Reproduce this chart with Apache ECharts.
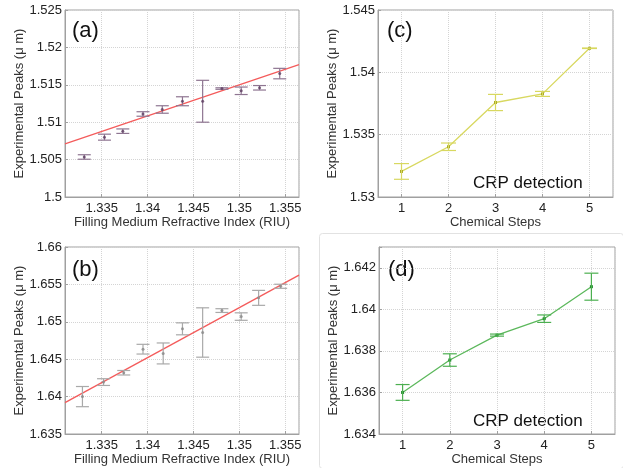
<!DOCTYPE html>
<html>
<head>
<meta charset="utf-8">
<script src="https://cdn.jsdelivr.net/npm/echarts@6/dist/echarts.min.js"></script>
<style>
    html, body { margin: 0; padding: 0; background: #fff; }
    #main { width: 623px; height: 468px; }
</style>
</head>
<body>
<div id="main"></div>
<script>
/*---------------------------------------------------------------
 数据
---------------------------------------------------------------*/
// (a) and (b): peak vs filling medium refractive index
const riuA = [1.3331, 1.3353, 1.3373, 1.3395, 1.3416, 1.3438, 1.3460, 1.3481, 1.3502, 1.3522, 1.3544];
const peaksA = [1.50535, 1.5080, 1.5088, 1.5111, 1.5117, 1.5128, 1.5128, 1.5145, 1.5142, 1.5146, 1.5165];
const errA = [0.0003, 0.0004, 0.0003, 0.0003, 0.0005, 0.0006, 0.0028, 0.0001, 0.0005, 0.0003, 0.0007];
const fitA = [[1.331, 1.5071], [1.3565, 1.5177]];

const riuB = [1.3329, 1.3352, 1.3374, 1.3395, 1.3417, 1.3438, 1.3460, 1.3481, 1.3502, 1.3521, 1.3545];
const peaksB = [1.6400, 1.64194, 1.64319, 1.64634, 1.64577, 1.64906, 1.64857, 1.6515, 1.6507, 1.6532, 1.65475];
const errB = [0.00135, 0.00045, 0.0003, 0.00065, 0.0014, 0.0008, 0.0033, 0.00025, 0.0005, 0.001, 0.00027];
const fitB = [[1.331, 1.6392], [1.3565, 1.65624]];

// (c) and (d): CRP detection, chemical steps
const steps = [1, 2, 3, 4, 5];
const peaksC = [1.53205, 1.53403, 1.53758, 1.53827, 1.54193];
const errC = [0.00063, 0.0003, 0.00065, 0.0002, 0.00002];
const peaksD = [1.6360, 1.63756, 1.63876, 1.63955, 1.64109];
const errD = [0.00038, 0.0003, 0.00005, 0.00018, 0.00065];

const yTicksA = [1.5, 1.525, 0.005];
const yTicksB = [1.635, 1.66, 0.005];
const yTicksC = [1.53, 1.545, 0.005];
const yTicksD = [1.634, 1.643, 0.002];

/*---------------------------------------------------------------
 通用样式
---------------------------------------------------------------*/
const FONT = 'Liberation Sans';
const grids = [
    { left: 65, top: 10, width: 234, height: 187 },
    { left: 65, top: 247, width: 234, height: 187 },
    { left: 378, top: 10, width: 235, height: 187 },
    { left: 379, top: 247, width: 236, height: 187 }
].map(g => Object.assign(g, { show: true, borderColor: '#a0a0a0', borderWidth: 1 }));

function pair(xs, ys) {
    return xs.map((x, i) => [x, ys[i]]);
}
function bars(xs, ys, es) {
    return xs.map((x, i) => [x, ys[i] - es[i], ys[i] + es[i]]);
}

function xAxisOf(idx, min, max, name) {
    return {
        type: 'value', gridIndex: idx, min: min, max: max,
        name: name, nameLocation: 'middle', nameGap: 17,
        nameTextStyle: { fontFamily: FONT, fontSize: 13, color: '#333' },
        axisLine: { show: true, lineStyle: { color: '#a0a0a0' } },
        axisTick: { show: true, inside: true, length: 3, lineStyle: { color: '#a0a0a0' } },
        axisLabel: {
            fontFamily: FONT, fontSize: 13, color: '#222', margin: 5,
            showMinLabel: false, showMaxLabel: false
        },
        splitLine: { show: true, lineStyle: { color: '#d4d4d4', type: 'dotted' } }
    };
}

function yAxisOf(idx, ticks) {
    return {
        type: 'value', gridIndex: idx, min: ticks[0], max: ticks[1], interval: ticks[2],
        name: 'Experimental Peaks (\u03bc m)', nameLocation: 'middle', nameGap: 37,
        nameTextStyle: { fontFamily: FONT, fontSize: 13, color: '#333' },
        axisLine: { show: true, lineStyle: { color: '#a0a0a0' } },
        axisTick: { show: true, inside: true, length: 3, lineStyle: { color: '#a0a0a0' } },
        axisLabel: {
            fontFamily: FONT, fontSize: 13, color: '#222', margin: 3,
            formatter: function (v) {
                // 不在刻度上的端点不显示
                let k = Math.round((v - ticks[0]) / ticks[2]);
                return Math.abs(ticks[0] + k * ticks[2] - v) < 1e-9 ? String(+v.toFixed(4)) : '';
            }
        },
        splitLine: { show: true, lineStyle: { color: '#d4d4d4', type: 'dotted' } }
    };
}

// 误差棒 custom series
function errorBars(idx, data, color, halfCap) {
    return {
        type: 'custom', xAxisIndex: idx, yAxisIndex: idx,
        encode: { x: 0, y: [1, 2] },
        data: data, z: 3,
        renderItem: function (params, api) {
            let lo = api.coord([api.value(0), api.value(1)]);
            let hi = api.coord([api.value(0), api.value(2)]);
            let style = { stroke: color, lineWidth: 1.2 };
            return {
                type: 'group',
                children: [
                    { type: 'line', shape: { x1: lo[0], y1: lo[1], x2: hi[0], y2: hi[1] }, style: style },
                    { type: 'line', shape: { x1: lo[0] - halfCap, y1: lo[1], x2: lo[0] + halfCap, y2: lo[1] }, style: style },
                    { type: 'line', shape: { x1: hi[0] - halfCap, y1: hi[1], x2: hi[0] + halfCap, y2: hi[1] }, style: style }
                ]
            };
        }
    };
}

function panelLabel(text, x, y) {
    return { type: 'text', left: x, top: y, style: { text: text, font: '22px "' + FONT + '"', fill: '#111' } };
}
function crpLabel(x, y) {
    return { type: 'text', left: x, top: y, style: { text: 'CRP detection', font: '17px "' + FONT + '"', fill: '#111' } };
}

/*---------------------------------------------------------------
 图表
---------------------------------------------------------------*/
let myChart = echarts.init(document.getElementById('main'), null, { renderer: 'canvas' });
let option = {
    animation: false,
    backgroundColor: '#fff',
    grid: grids,
    xAxis: [
        xAxisOf(0, 1.331, 1.3565, 'Filling Medium Refractive Index (RIU)'),
        xAxisOf(1, 1.331, 1.3565, 'Filling Medium Refractive Index (RIU)'),
        xAxisOf(2, 0.5, 5.5, 'Chemical Steps'),
        xAxisOf(3, 0.5, 5.5, 'Chemical Steps')
    ],
    yAxis: [
        yAxisOf(0, yTicksA),
        yAxisOf(1, yTicksB),
        yAxisOf(2, yTicksC),
        yAxisOf(3, yTicksD)
    ],
    graphic: [
        { type: 'rect', left: 317, top: 231, shape: { width: 304, height: 235, r: 3 },
          style: { fill: 'none', stroke: '#e2e2e2', lineWidth: 1 } },
        panelLabel('(a)', 72, 20),
        panelLabel('(b)', 72, 259),
        panelLabel('(c)', 387, 20),
        panelLabel('(d)', 388, 259),
        crpLabel(473, 175),
        crpLabel(473, 413)
    ],
    series: [
        // (a)
        { type: 'line', xAxisIndex: 0, yAxisIndex: 0, data: fitA, symbol: 'none', z: 2,
          lineStyle: { color: '#f45b5b', width: 1.3 } },
        errorBars(0, bars(riuA, peaksA, errA), '#8e7591', 6.5),
        { type: 'scatter', xAxisIndex: 0, yAxisIndex: 0, data: pair(riuA, peaksA), z: 4,
          symbolSize: 3, itemStyle: { color: '#5e3d62' } },
        // (b)
        { type: 'line', xAxisIndex: 1, yAxisIndex: 1, data: fitB, symbol: 'none', z: 2,
          lineStyle: { color: '#f45b5b', width: 1.3 } },
        errorBars(1, bars(riuB, peaksB, errB), '#a9a9a9', 6.5),
        { type: 'scatter', xAxisIndex: 1, yAxisIndex: 1, data: pair(riuB, peaksB), z: 4,
          symbolSize: 3, itemStyle: { color: '#888' } },
        // (c)
        { type: 'line', xAxisIndex: 2, yAxisIndex: 2, data: pair(steps, peaksC), z: 2,
          symbol: 'rect', symbolSize: 3, itemStyle: { color: '#a8a820' },
          lineStyle: { color: '#d8d860', width: 1.3 } },
        errorBars(2, bars(steps, peaksC, errC), '#d8d860', 7.5),
        // (d)
        { type: 'line', xAxisIndex: 3, yAxisIndex: 3, data: pair(steps, peaksD), z: 2,
          symbol: 'rect', symbolSize: 3, itemStyle: { color: '#1f8a2a' },
          lineStyle: { color: '#5cb85c', width: 1.3 } },
        errorBars(3, bars(steps, peaksD, errD), '#4caf50', 7)
    ]
};
myChart.setOption(option);
</script>
</body>
</html>
